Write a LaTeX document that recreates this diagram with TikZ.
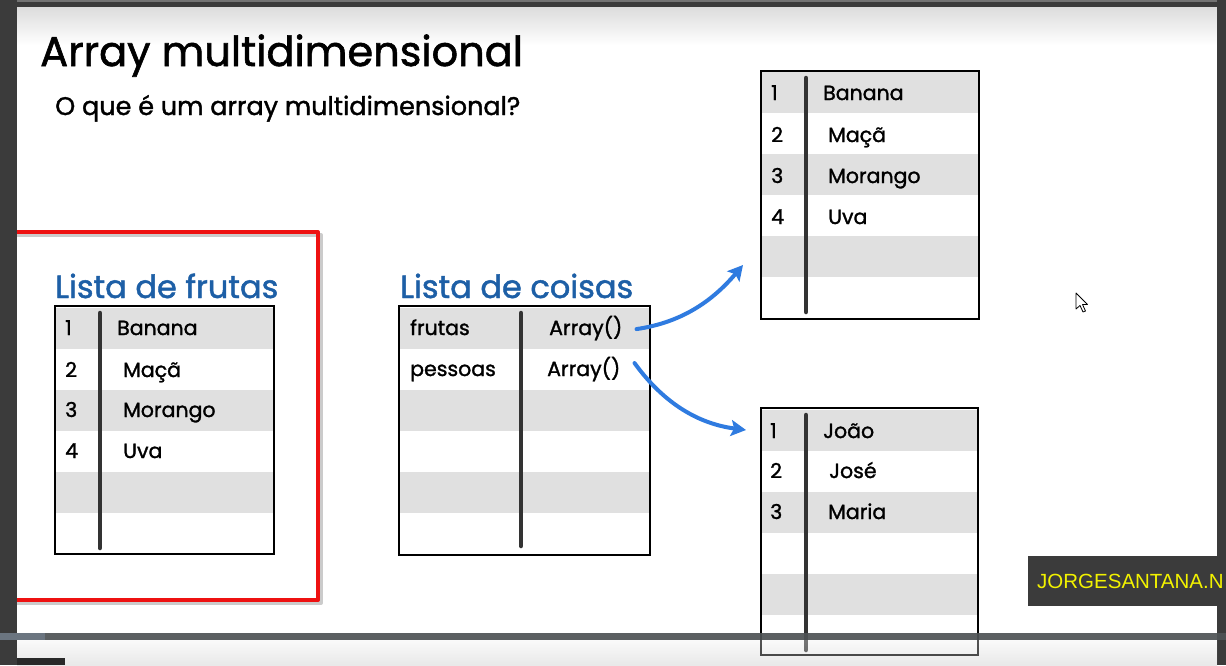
\documentclass[tikz,border=0pt]{standalone}
\usepackage{fontspec}
\setmainfont{Poppins}[FakeBold=1.4]
\newfontfamily\wmfont{Liberation Sans}
\usetikzlibrary{arrows.meta}
\definecolor{framegray}{HTML}{3B3B3B}
\definecolor{slidetop}{HTML}{DCDCDC}
\definecolor{rowgray}{HTML}{E0E0E0}
\definecolor{headblue}{HTML}{1D5FA6}
\definecolor{arrowblue}{HTML}{2F7BE0}
\definecolor{boxred}{HTML}{EE1111}
\definecolor{wmyellow}{HTML}{F2F200}
\definecolor{bardark}{HTML}{4E5254}
\definecolor{barlight}{HTML}{6B7580}
\tikzset{
  titletext/.style={anchor=base west,inner sep=0pt,font=\fontsize{41.5}{48}\selectfont},
  subtext/.style={anchor=base west,inner sep=0pt,font=\fontsize{25.5}{28}\selectfont},
  headtext/.style={anchor=base west,inner sep=0pt,text=headblue,font=\fontsize{32}{36}\selectfont},
  celltext/.style={anchor=base west,inner sep=0pt,font=\fontsize{20.5}{24}\selectfont},
  tframe/.style={draw=black,line width=2.8pt,fill=none,inner sep=0pt},
  divider/.style={draw=black!80,line width=4.5pt,line cap=round},
  arr/.style={draw=arrowblue,line width=4pt,line cap=round,-{Stealth[length=15pt,width=16pt,inset=3pt]}},
  wmtext/.style={anchor=base west,inner sep=0pt,text=wmyellow,font=\wmfont\fontsize{20.5}{24}\selectfont},
}
\begin{document}
\begin{tikzpicture}[x=1pt,y=-1pt]
\useasboundingbox (0,0) rectangle (1226,665);
% slide background
\fill[white] (0,0) rectangle (1226,665);
\shade[top color=slidetop,bottom color=white] (17,7) rectangle (1217,45);

% title
\node[titletext] (title) at (40,66) {Array multidimensional};
\node[subtext] (sub) at (55,115) {O que é um array multidimensional?};

% red highlight box with shadow
\draw[line width=4pt,black!40,opacity=0.5,line join=round] (17,235) -- (321,235) -- (321,603) -- (17,603);
\draw[line width=4pt,boxred,line join=round] (17,232) -- (318,232) -- (318,600) -- (17,600);

% ---------- table 1: Lista de frutas
\node[headtext] (h1) at (55,298) {Lista de frutas};
\foreach \i in {0,2,4} \fill[rowgray] (56,308+\i*41) rectangle (273,349+\i*41);
\node[tframe,minimum width=219pt,minimum height=248pt] (t1) at (164.5,430) {};
\draw[divider] (100,313) -- (100,548);
\node[celltext] (t1n1) at (65,335) {1};
\node[celltext] (t1n2) at (65,377) {2};
\node[celltext] (t1n3) at (65,417) {3};
\node[celltext] (t1n4) at (65,458) {4};
\node[celltext] (t1v1) at (117,335) {Banana};
\node[celltext] (t1v2) at (123,377) {Maçã};
\node[celltext] (t1v3) at (123,417) {Morango};
\node[celltext] (t1v4) at (123,458) {Uva};

% ---------- table 2: Lista de coisas
\node[headtext] (h2) at (400,298) {Lista de coisas};
\foreach \i in {0,2,4} \fill[rowgray] (400,308+\i*41) rectangle (649,349+\i*41);
\node[tframe,minimum width=251pt,minimum height=249pt] (t2) at (524.5,430.5) {};
\draw[divider] (521,313) -- (521,546);
\node[celltext] (k1) at (410,335) {frutas};
\node[celltext] (k2) at (410,376) {pessoas};
\node[celltext] (a1) at (549,335) {Array()};
\node[celltext] (a2) at (547,376) {Array()};

% ---------- table 3 (fruits)
\foreach \i in {0,2,4} \fill[rowgray] (762,72+\i*41) rectangle (978,113+\i*41);
\node[tframe,minimum width=218pt,minimum height=248pt] (t3) at (870,195) {};
\draw[divider] (806,78) -- (806,312);
\node[celltext] (t3n1) at (771,100) {1};
\node[celltext] (t3n2) at (771,142) {2};
\node[celltext] (t3n3) at (771,183) {3};
\node[celltext] (t3n4) at (771,224) {4};
\node[celltext] (t3v1) at (823,100) {Banana};
\node[celltext] (t3v2) at (828,142) {Maçã};
\node[celltext] (t3v3) at (828,183) {Morango};
\node[celltext] (t3v4) at (828,224) {Uva};

% ---------- table 4 (people)
\foreach \i in {0,2,4} \fill[rowgray] (762,410+\i*41) rectangle (977,451+\i*41);
\node[tframe,minimum width=217pt,minimum height=247pt] (t4) at (869.5,531.5) {};
\draw[divider] (806,415) -- (806,650);
\node[celltext] (t4n1) at (770,438) {1};
\node[celltext] (t4n2) at (770,478) {2};
\node[celltext] (t4n3) at (770,519) {3};
\node[celltext] (t4v1) at (823,438) {João};
\node[celltext] (t4v2) at (829,478) {José};
\node[celltext] (t4v3) at (828,519) {Maria};

% ---------- arrows
\coordinate (e1) at (743,265);
\coordinate (e2) at (746,430);
\draw[arr] ([xshift=14pt,yshift=-1pt]a1.east) .. controls (685,322) and (715,298) .. (e1);
\draw[arr] ([xshift=14pt,yshift=6pt]a2.east) .. controls (665,405) and (700,424) .. (e2);

% mouse cursor
\draw[black,fill=white,line width=0.8pt,line join=round] (1076,293) -- (1076,309) -- (1080,305.5) -- (1083,312) -- (1085.5,311) -- (1082.5,304.5) -- (1087.5,304.5) -- cycle;

% frame strips
\fill[framegray] (0,0) rectangle (1226,7);
\fill[black!55] (0,0) rectangle (1226,2);
\fill[framegray] (0,0) rectangle (17,665);
\fill[framegray] (1217,0) rectangle (1226,665);

% watermark (over the frame)
\fill[framegray] (1028,556) rectangle (1226,606);
\begin{scope}
\clip (1028,556) rectangle (1226,606);
\node[wmtext] (wm) at (1037,588) {JORGESANTANA.N};
\end{scope}

% player bar
\shade[top color=white!95!black,bottom color=black!25,opacity=0.35] (17,640) rectangle (1217,665);
\fill[bardark,opacity=0.92] (0,633) rectangle (1226,640);
\fill[barlight] (0,633) rectangle (45,640);
\fill[framegray!70!black] (17,658) rectangle (65,665);
\end{tikzpicture}
\end{document}
